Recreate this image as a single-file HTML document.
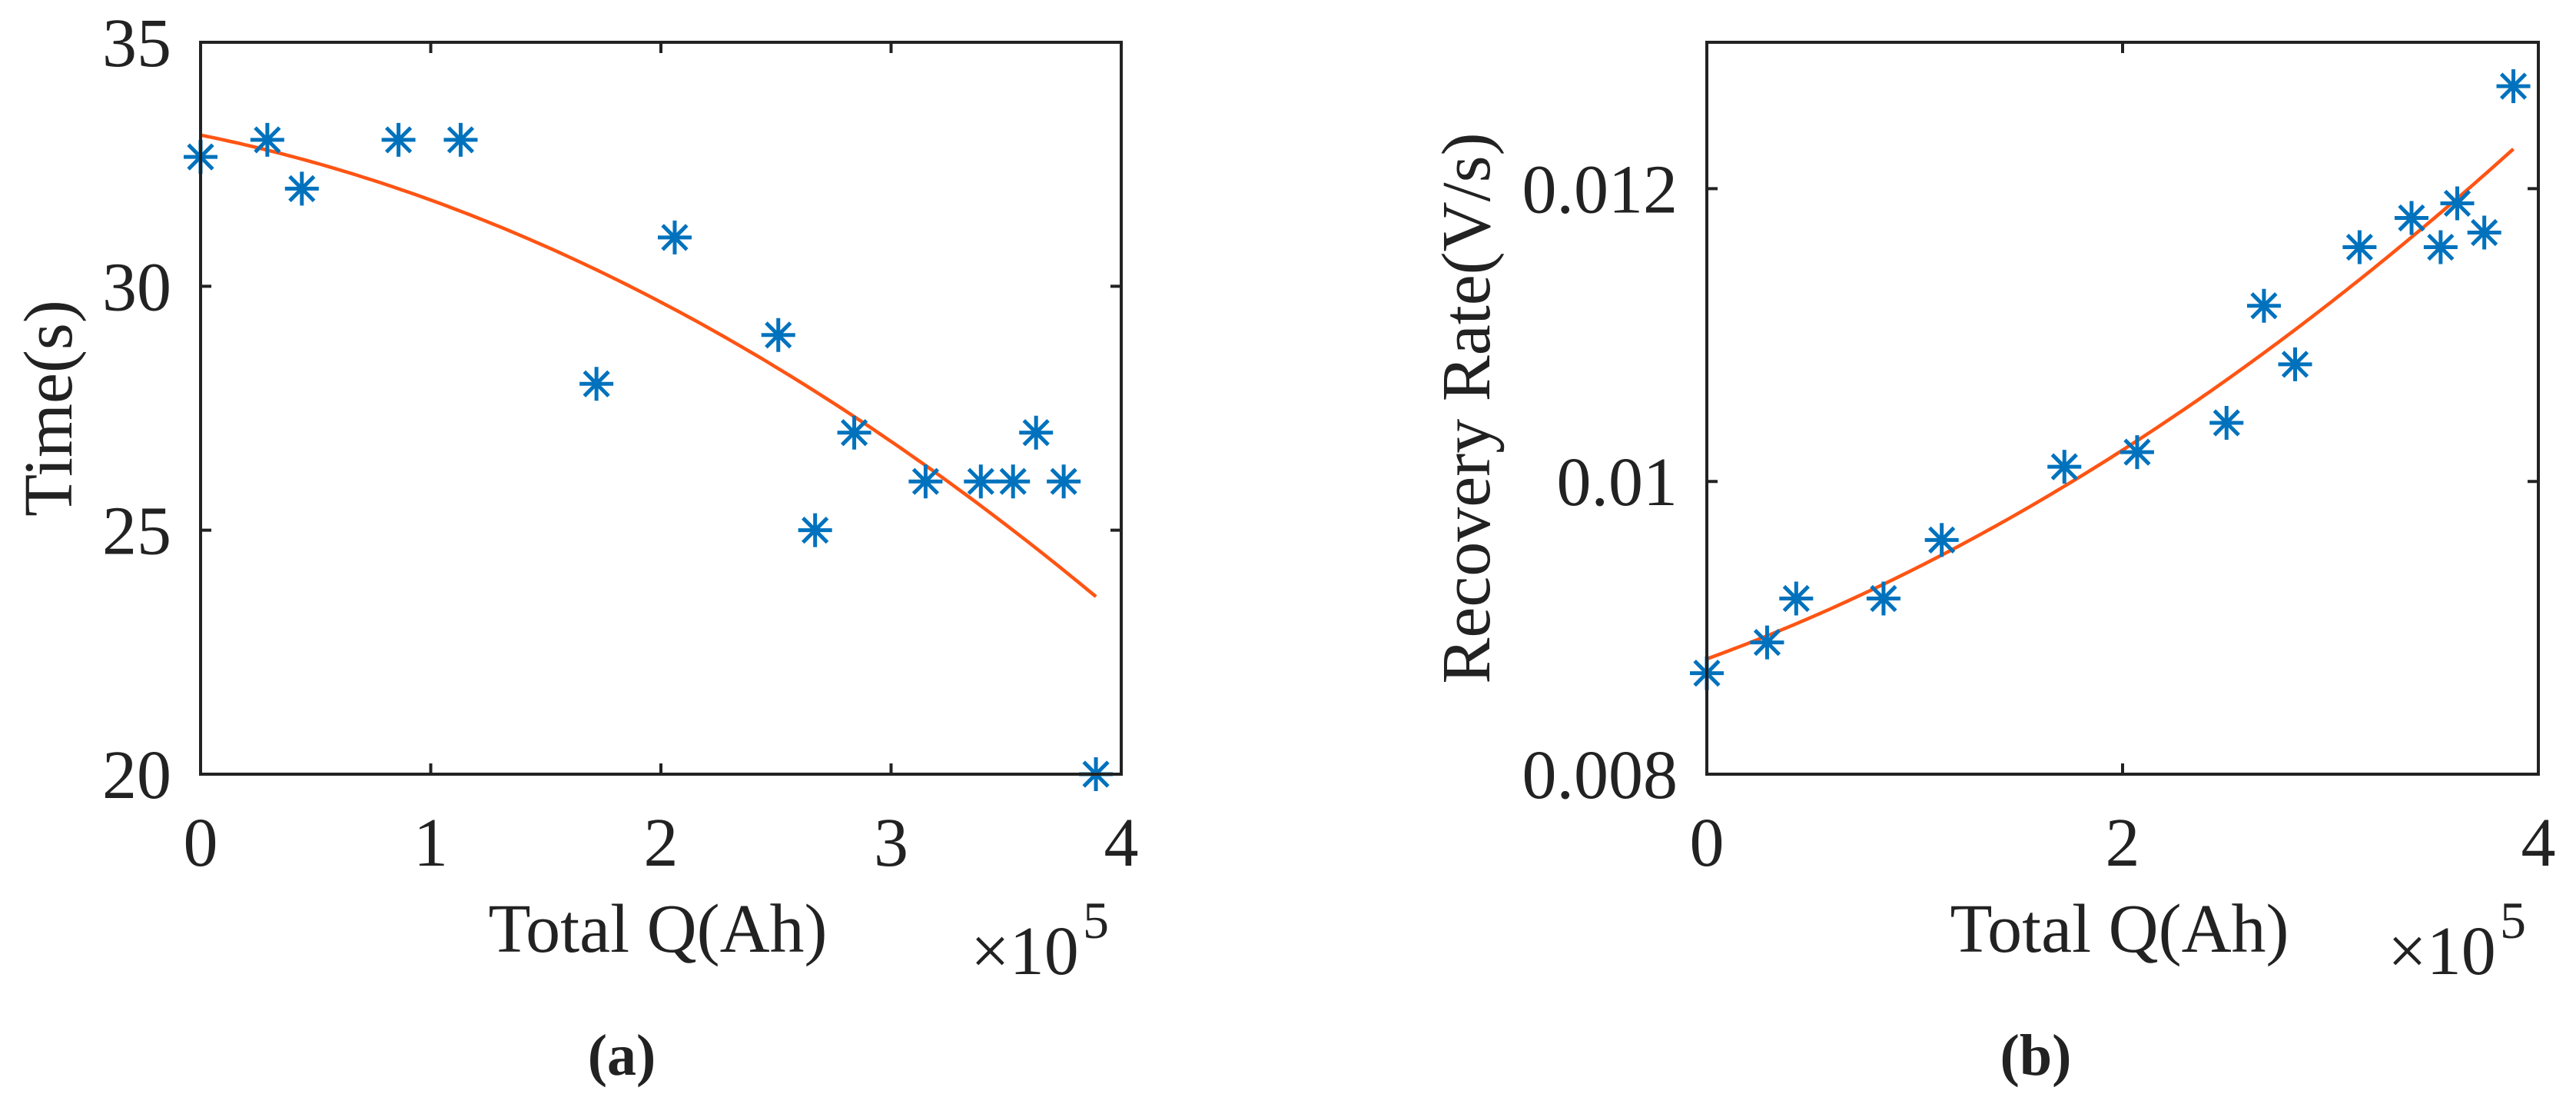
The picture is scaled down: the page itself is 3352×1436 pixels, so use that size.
<!DOCTYPE html>
<html><head><meta charset="utf-8"><style>
html,body{margin:0;padding:0;background:#fff;}
svg{display:block;}
svg text{font-family:"Liberation Serif","DejaVu Serif","Noto Serif CJK SC",serif;fill:#222;}
</style></head><body>
<svg id="fig" width="3352" height="1436" viewBox="0 0 3352 1436" xmlns="http://www.w3.org/2000/svg">
<rect width="3352" height="1436" fill="#fff"/>
<g id="panelA"></g>
<g id="panelB"></g>
</svg>
<script>
// Panel (a) data
const qA = [0, 0.29, 0.44, 0.86, 1.13, 1.72, 2.06, 2.51, 2.67, 2.84, 3.15, 3.39, 3.53, 3.63, 3.75, 3.89];
const timeA = [32.65, 33, 32, 33, 33, 28, 31, 29, 25, 27, 26, 26, 26, 27, 26, 20];
const xTicksA = [0, 1, 2, 3, 4];
const yTicksA = [20, 25, 30, 35];
// Panel (b) data
const qB = [0, 0.29, 0.43, 0.85, 1.13, 1.72, 2.07, 2.50, 2.68, 2.83, 3.14, 3.39, 3.53, 3.61, 3.74, 3.88];
const rateB = [0.00869, 0.0089, 0.0092, 0.0092, 0.0096, 0.0101, 0.0102, 0.0104, 0.0112, 0.0108, 0.0116, 0.0118, 0.0116, 0.0119, 0.0117, 0.0127];
const xTicksB = [0, 2, 4];
const yTicksB = [0.008, 0.01, 0.012];
const yTickLabelsB = ["0.008", "0.01", "0.012"];

const NS = "http://www.w3.org/2000/svg";
const SERIF = "'Liberation Serif', 'DejaVu Serif', serif";
function mk(parent, tag, attrs, txt) {
  const e = document.createElementNS(NS, tag);
  for (const k in attrs) e.setAttribute(k, attrs[k]);
  if (tag === "text") { e.setAttribute("font-family", SERIF); e.style.fontFamily = SERIF; }
  if (txt !== undefined) e.textContent = txt;
  parent.appendChild(e);
  return e;
}
function quadFit(xs, ys) {
  let S = [0,0,0,0,0], T = [0,0,0];
  for (let i = 0; i < xs.length; i++) {
    let p = 1;
    for (let k = 0; k < 5; k++) { S[k] += p; if (k < 3) T[k] += p * ys[i]; p *= xs[i]; }
  }
  const M = [[S[0],S[1],S[2],T[0]],[S[1],S[2],S[3],T[1]],[S[2],S[3],S[4],T[2]]];
  for (let c = 0; c < 3; c++) {
    for (let r = c + 1; r < 3; r++) {
      const f = M[r][c] / M[c][c];
      for (let k = c; k < 4; k++) M[r][k] -= f * M[c][k];
    }
  }
  const co = [0,0,0];
  for (let r = 2; r >= 0; r--) {
    let s = M[r][3];
    for (let k = r + 1; k < 3; k++) s -= M[r][k] * co[k];
    co[r] = s / M[r][r];
  }
  return co;
}
function drawPanel(g, cfg) {
  const L = cfg.left, R = cfg.right, T = 55, B = 1007;
  const sx = v => L + (v - cfg.xmin) / (cfg.xmax - cfg.xmin) * (R - L);
  const sy = v => B - (v - cfg.ymin) / (cfg.ymax - cfg.ymin) * (B - T);
  const co = quadFit(cfg.xs, cfg.ys);
  const x0 = Math.min(...cfg.xs), x1 = Math.max(...cfg.xs);
  let d = "";
  for (let i = 0; i <= 120; i++) {
    const x = x0 + (x1 - x0) * i / 120;
    const y = co[0] + co[1] * x + co[2] * x * x;
    d += (i ? "L" : "M") + sx(x).toFixed(1) + "," + sy(y).toFixed(1);
  }
  const fit = mk(g, "path", {d: d, fill: "none", stroke: "#FF5413", "stroke-width": 4.5});
  
  
  const r = 22;
  for (let i = 0; i < cfg.xs.length; i++) {
    const cx = sx(cfg.xs[i]), cy = sy(cfg.ys[i]), q = r * 0.72;
    const m = mk(g, "path", {
      d: `M${cx-r},${cy}H${cx+r}M${cx},${cy-r}V${cy+r}M${cx-q},${cy-q}L${cx+q},${cy+q}M${cx-q},${cy+q}L${cx+q},${cy-q}`,
      stroke: "#0072BD", "stroke-width": 5, fill: "none"});
    
    
  }
  const box = mk(g, "rect", {x: L, y: T, width: R - L, height: B - T, fill: "none", stroke: "#222", "stroke-width": 4});
  
  
  cfg.xTicks.forEach(v => {
    const x = sx(v);
    mk(g, "path", {d: `M${x},${B}V${B-14}M${x},${T}V${T+14}`, stroke: "#222", "stroke-width": 4});
    const t = mk(g, "text", {x: x, y: 1126, "font-size": 90, "text-anchor": "middle"}, String(v));
    
    
  });
  cfg.yTicks.forEach((v, i) => {
    const y = sy(v);
    mk(g, "path", {d: `M${L},${y}H${L+14}M${R},${y}H${R-14}`, stroke: "#222", "stroke-width": 4});
    const t = mk(g, "text", {x: L - 38, y: y + 31, "font-size": 90, "text-anchor": "end"}, cfg.yLabels[i]);
    
    
  });
  const xl = mk(g, "text", {x: (L + R) / 2 - 4, y: 1238, "font-size": 90, "text-anchor": "middle"}, "Total Q(Ah)");
  
  
  const ex = mk(g, "text", {x: R - 196, y: 1267, "font-size": 90}, "×10");
  
  
  const e5 = mk(g, "text", {x: R - 50, y: 1220, "font-size": 68}, "5");
  
  
  const yl = mk(g, "text", {x: 0, y: 0, "font-size": 90, "text-anchor": "middle",
    transform: `translate(${cfg.ylabX},531) rotate(-90)`}, cfg.ylabel);
  
  
  const cap = mk(g, "text", {x: cfg.capX, y: 1398, "font-size": 76, "font-weight": "bold", "text-anchor": "middle"}, cfg.cap);
  
  
}
drawPanel(document.getElementById("panelA"), {
  left: 261, right: 1459, xmin: 0, xmax: 4, ymin: 20, ymax: 35,
  xs: qA, ys: timeA, xTicks: xTicksA, yTicks: yTicksA, yLabels: yTicksA.map(String),
  ylabel: "Time(s)", ylabX: 93, cap: "(a)", capX: 809
});
drawPanel(document.getElementById("panelB"), {
  left: 2221, right: 3303, xmin: 0, xmax: 4, ymin: 0.008, ymax: 0.013,
  xs: qB, ys: rateB, xTicks: xTicksB, yTicks: yTicksB, yLabels: yTickLabelsB,
  ylabel: "Recovery Rate(V/s)", ylabX: 1938, cap: "(b)", capX: 2649
});
</script>
</body></html>
